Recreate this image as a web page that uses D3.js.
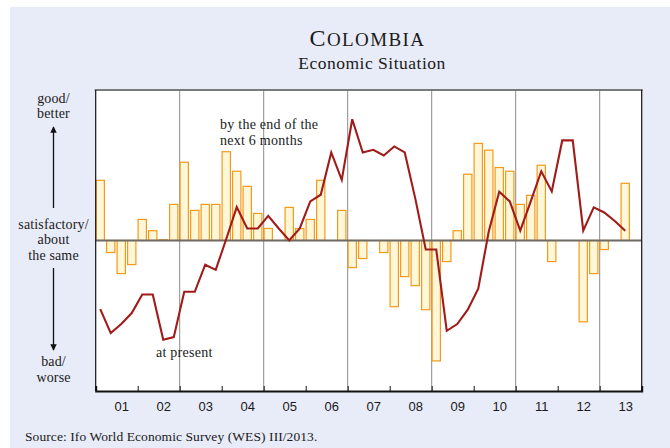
<!DOCTYPE html>
<html>
<head>
<meta charset="utf-8">
<script src="https://cdn.jsdelivr.net/npm/d3@7"></script>
<style>
html,body{margin:0;padding:0;background:#fff;}
svg{display:block;}
.serif{font-family:"Liberation Serif","Times New Roman",serif;fill:#1a1a1a;}
.sans{font-family:"Liberation Sans",Arial,sans-serif;fill:#1a1a1a;}
</style>
</head>
<body>
<script>
// ---- data ----
const yearLabels = ["01","02","03","04","05","06","07","08","09","10","11","12","13"];
const firstYear = 2001;
// quarterly balances, 2001 Q1 .. 2013 Q3
const presentValues = [
  40, -8, -22, -16,
  14, 6.5, 0.5, 24,
  52, 20, 24, 24,
  59, 46, 36, 18,
  8, 0, 22, 8,
  14, 40, 0, 20,
  -18, -12, 0, -8,
  -44, -24, -30, -46,
  -80, -14, 6.5, 44,
  64.5, 60, 48.5, 46,
  24, 30, 50, -14,
  0, 0, -54, -22,
  -6, 0, 38
];
const expectValues = [
  -45.6, -61.5, -55.5, -48.2,
  -35.9, -35.9, -66, -64.2,
  -34.1, -34.1, -16.1, -19.5,
  1, 22.2, 8, 8,
  16.4, 8, 0, 8,
  26, 30.4, 58.5, 40.3,
  80.6, 58.5, 60.3, 56.5,
  62.5, 58.5, 28, -6,
  -6, -60, -55.5, -46,
  -32, 6, 32.4, 26,
  6.5, 26, 46, 32.6,
  66.5, 66.5, 6.5, 22,
  18.6, 13, 6.5
];

// ---- layout ----
const W = 670, H = 448;
const plot = {left: 95.7, right: 641.7, top: 90, bottom: 391};

const svg = d3.select("body").append("svg").attr("width", W).attr("height", H);

// background
svg.append("rect").attr("x", 10).attr("y", 7).attr("width", W - 10).attr("height", H - 7)
  .attr("fill", "#e8ecf8");

const x = d3.scaleLinear().domain([firstYear, firstYear + yearLabels.length]).range([plot.left, plot.right]);
const y = d3.scaleLinear().domain([-100, 100]).range([plot.bottom, plot.top]);
const qw = x(firstYear + 0.25) - x(firstYear);
const qCenter = i => x(firstYear + i * 0.25) + qw / 2 - 0.7;

// plot area
svg.append("rect").attr("x", plot.left).attr("y", plot.top)
  .attr("width", plot.right - plot.left).attr("height", plot.bottom - plot.top).attr("fill", "#fff");

// vertical grid lines every two years
const gridYears = d3.range(firstYear + 2, firstYear + yearLabels.length, 2);
svg.append("g").selectAll("line").data(gridYears).join("line")
  .attr("x1", d => x(d)).attr("x2", d => x(d))
  .attr("y1", plot.top).attr("y2", plot.bottom)
  .attr("stroke", "#8a8a8a").attr("stroke-width", 1);

// bars
const bw = 8.3;
svg.append("g").selectAll("rect").data(presentValues).join("rect")
  .attr("x", (d, i) => qCenter(i) - bw / 2)
  .attr("width", bw)
  .attr("y", d => y(Math.max(0, d)))
  .attr("height", d => Math.abs(y(d) - y(0)))
  .attr("fill", "#fff7d8")
  .attr("stroke", "#f39a1c")
  .attr("stroke-width", 1.2);

// zero line
svg.append("line").attr("x1", plot.left).attr("x2", plot.right)
  .attr("y1", y(0)).attr("y2", y(0)).attr("stroke", "#6e6a66").attr("stroke-width", 1.8);

// line
const line = d3.line().x((d, i) => qCenter(i)).y(d => y(d));
svg.append("path").datum(expectValues).attr("d", line)
  .attr("fill", "none").attr("stroke", "#a01c1a").attr("stroke-width", 2.1)
  .attr("stroke-linejoin", "miter");

// frame
svg.append("line").attr("x1", plot.left - 1).attr("x2", plot.right + 1).attr("y1", plot.top).attr("y2", plot.top)
  .attr("stroke", "#7a7a7a").attr("stroke-width", 2);
svg.append("line").attr("x1", plot.left).attr("x2", plot.left).attr("y1", plot.top).attr("y2", plot.bottom)
  .attr("stroke", "#111").attr("stroke-width", 1.2);
svg.append("line").attr("x1", plot.right).attr("x2", plot.right).attr("y1", plot.top).attr("y2", plot.bottom)
  .attr("stroke", "#111").attr("stroke-width", 1.2);

// x axis
const xAxis = d3.axisBottom(x)
  .tickValues(d3.range(firstYear + 1, firstYear + yearLabels.length))
  .tickSize(-5).tickFormat("");
const ax = svg.append("g").attr("transform", `translate(0,${plot.bottom})`).call(xAxis);
ax.select(".domain").attr("stroke", "#111").attr("stroke-width", 2);
ax.selectAll(".tick line").attr("stroke", "#111").attr("stroke-width", 1);

svg.append("g").selectAll("text").data(yearLabels).join("text")
  .attr("class", "sans")
  .attr("x", (d, i) => x(firstYear + i + 0.5) + 5)
  .attr("y", 411)
  .attr("text-anchor", "middle")
  .attr("font-size", 13)
  .text(d => d);

// title
const t = svg.append("text").attr("class", "serif").attr("x", 367.5).attr("y", 46)
  .attr("text-anchor", "middle").attr("letter-spacing", 1.4);
t.append("tspan").attr("font-size", 24).text("C");
t.append("tspan").attr("font-size", 19).text("OLOMBIA");
svg.append("text").attr("class", "serif").attr("x", 372).attr("y", 69).attr("text-anchor", "middle")
  .attr("font-size", 17.5).attr("letter-spacing", 0.5).text("Economic Situation");

// left labels
const leftX = 53.5;
const leftLabels = [
  ["good/", 103.3], ["better", 118.3],
  ["satisfactory/", 228.5], ["about", 244], ["the same", 259.5],
  ["bad/", 366], ["worse", 381.5]
];
svg.append("g").selectAll("text").data(leftLabels).join("text")
  .attr("class", "serif").attr("x", leftX).attr("y", d => d[1])
  .attr("text-anchor", "middle").attr("font-size", 14).attr("letter-spacing", 0.15).text(d => d[0]);

const defs = svg.append("defs");
defs.append("marker").attr("id", "ah").attr("viewBox", "0 0 10 10").attr("refX", 9).attr("refY", 5)
  .attr("markerWidth", 5).attr("markerHeight", 6).attr("orient", "auto")
  .append("path").attr("d", "M0,0 L10,5 L0,10 z").attr("fill", "#111");
svg.append("line").attr("x1", leftX).attr("x2", leftX).attr("y1", 208).attr("y2", 127)
  .attr("stroke", "#111").attr("stroke-width", 1.3).attr("marker-end", "url(#ah)");
svg.append("line").attr("x1", leftX).attr("x2", leftX).attr("y1", 268).attr("y2", 350)
  .attr("stroke", "#111").attr("stroke-width", 1.3).attr("marker-end", "url(#ah)");

// annotations
svg.append("text").attr("class", "serif").attr("x", 220).attr("y", 128.5).attr("font-size", 14)
  .attr("letter-spacing", 0.25).text("by the end of the");
svg.append("text").attr("class", "serif").attr("x", 220).attr("y", 144.5).attr("font-size", 14)
  .attr("letter-spacing", 0.25).text("next 6 months");
svg.append("text").attr("class", "serif").attr("x", 156).attr("y", 357).attr("font-size", 14)
  .attr("letter-spacing", 0.25).text("at present");

// source
svg.append("text").attr("class", "serif").attr("x", 25).attr("y", 441).attr("font-size", 13.5)
  .attr("letter-spacing", 0.08).text("Source: Ifo World Economic Survey (WES) III/2013.");
</script>
</body>
</html>
